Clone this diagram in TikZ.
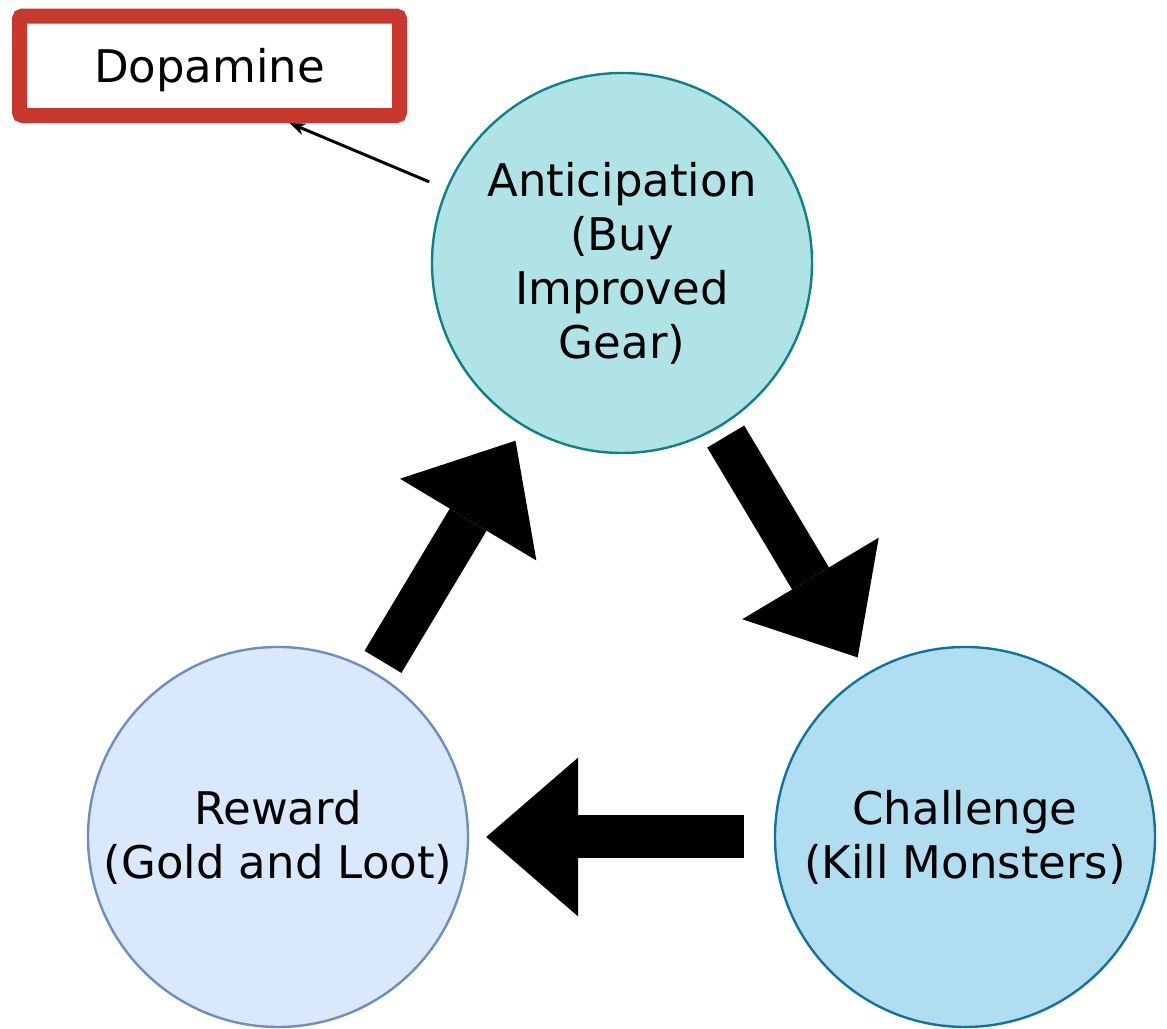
\documentclass[tikz,border=0pt]{standalone}
\usepackage{fontspec}
\setmainfont{DejaVu Sans}
\usetikzlibrary{arrows.meta}
\definecolor{antfill}{HTML}{B0E3E6}
\definecolor{antline}{HTML}{0E8088}
\definecolor{chafill}{HTML}{B1DDF0}
\definecolor{chaline}{HTML}{10739E}
\definecolor{rewfill}{HTML}{DAE8FC}
\definecolor{rewline}{HTML}{6C8EBF}
\definecolor{dopred}{HTML}{C8382F}

\begin{document}
\begin{tikzpicture}[
	phase/.style={circle,draw,line width=1.7pt,minimum size=9.5cm,inner sep=0pt,align=center,font=\fontsize{32}{38.4}\selectfont},
	bigarrow/.style={line width=1.075cm,-{Triangle[length=2.3cm,width=3.975cm,line width=0pt]}}
	]
		\useasboundingbox (0,0) rectangle (29.175,25.725);
		
		\node (ant) at (15.55,19.15) [phase,fill=antfill,draw=antline] {Anticipation\\(Buy\\Improved\\Gear)};
		\node (cha) at (24.125,4.8) [phase,fill=chafill,draw=chaline] {Challenge\\(Kill Monsters)};
		\node (rew) at (6.95,4.8) [phase,fill=rewfill,draw=rewline] {Reward\\(Gold and Loot)};
		\node (dopa) at (5.2375,24.08) [draw=dopred,fill=white,line width=0.375cm,rounded corners=0.08cm,minimum width=9.5cm,minimum height=2.4875cm,text depth=0pt,font=\fontsize{32}{38.4}\selectfont] {Dopamine};
		\coordinate (dtip) at ([xshift=2cm]dopa.south);
		
		\draw[line width=2.1pt,-{Stealth[length=0.4cm,width=0.3cm]},shorten <=0.45cm] (ant) -- (dtip);
		\draw[bigarrow,shorten <=0.325cm,shorten >=0.4cm] (rew) -- (ant);
		\draw[bigarrow,shorten <=0.275cm,shorten >=0.45cm] (ant) -- (cha);
		\draw[bigarrow,shorten <=0.75cm,shorten >=0.425cm] (cha) -- (rew);
	\end{tikzpicture}
\end{document}
